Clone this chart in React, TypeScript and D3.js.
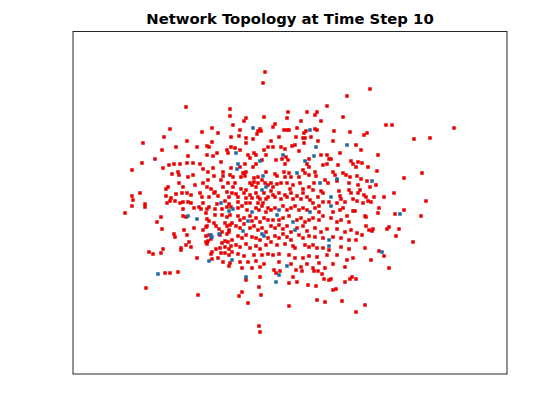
import React, { useEffect, useRef } from "react";
import * as d3 from "d3";

const titleText = "Network Topology at Time Step 10";
const xLimits: [number, number] = [-21.7, 21.7];
const yLimits: [number, number] = [-17.1, 17.15];

// node positions (x, y)
const redNodes: [number, number][] = [
  [-10.4, 9.6], [-6.0, 9.4], [-6.0, 8.7], [-5.7, 7.8], [-12.0, 7.4], [-8.8, 7.1], [-7.8, 7.5], [-7.2, 7.0],
  [-12.6, 6.6], [-5.9, 6.6], [-14.7, 6.0], [-12.8, 5.3], [-13.5, 4.4], [-14.8, 4.0], [-12.1, 3.8], [-11.6, 3.9],
  [-12.7, 3.5], [-15.8, 3.3], [-11.8, 2.9], [-12.2, 1.6], [-12.4, 1.4], [-15.0, 1.0], [-15.8, 0.7], [-12.4, 0.7],
  [-11.9, 0.5],
  [-2.5, 13.1], [-2.7, 12.0], [5.7, 10.7], [3.7, 9.7], [-0.2, 9.1], [1.7, 9.1], [2.7, 9.1], [2.5, 8.8],
  [-0.3, 8.5], [-2.6, 8.6], [5.3, 8.6], [-4.4, 8.5], [-4.6, 8.2], [1.1, 8.2], [3.1, 8.2], [-1.5, 7.9],
  [-1.7, 7.6], [-3.0, 7.4], [-3.2, 7.2], [-5.0, 7.3], [-0.6, 7.3], [-0.3, 7.3], [-0.1, 7.3], [0.7, 7.5],
  [1.6, 7.2], [1.4, 7.0], [2.5, 7.4], [2.7, 7.3], [4.4, 7.2], [6.0, 7.1], [-5.1, 6.7], [-4.4, 6.5],
  [-3.7, 6.4], [-3.3, 6.9], [-2.9, 7.2], [-1.1, 6.6], [0.6, 6.6], [1.3, 6.5], [1.5, 6.5], [2.1, 6.6],
  [8.0, 11.4], [9.6, 7.8], [10.2, 7.8], [16.4, 7.5], [7.4, 6.8], [7.7, 7.0], [12.4, 6.4], [14.0, 6.5],
  [6.6, 5.8], [7.1, 5.3], [8.8, 4.8], [6.8, 4.1], [7.2, 4.0], [6.6, 3.6], [7.8, 3.6], [8.7, 3.2],
  [6.7, 2.7], [11.4, 2.5], [13.2, 3.0], [7.1, 2.4], [7.7, 2.2], [6.8, 1.8], [8.6, 1.8], [8.0, 1.6],
  [7.0, 1.3], [6.8, 1.0], [10.4, 1.0], [7.4, 0.8], [7.6, 0.6], [8.4, 0.6], [9.4, 0.6],
  [-15.7, 0.3], [-14.5, -0.1], [-14.5, -0.4], [-15.8, -0.3], [-16.5, -1.0], [-12.3, 0.0], [-12.0, 0.2], [-11.5, 0.2],
  [-11.0, 0.0], [-10.7, 0.1], [-10.2, 0.1], [-9.9, 0.0], [-10.7, -0.6], [-9.6, -0.5], [-9.1, -0.4], [-8.9, -0.6],
  [-8.7, 0.0], [-8.3, -0.6], [-8.1, -0.4], [-7.3, -0.1], [-6.5, 0.2], [-6.1, -0.1], [-7.5, -0.6], [-6.8, -0.6],
  [-6.3, -0.4], [-5.9, -0.4], [-12.9, -1.4], [-10.7, -1.3], [-10.4, -1.4], [-8.4, -1.0], [-8.3, -1.6], [-8.1, -1.8],
  [-7.5, -1.2], [-6.8, -1.2], [-6.3, -1.4], [-6.0, -1.2], [-13.3, -1.9], [-12.8, -2.6], [-10.6, -2.7], [-9.6, -2.5],
  [-8.7, -2.7], [-8.4, -2.4], [-8.3, -2.3], [-7.6, -2.0], [-7.4, -2.3], [-7.1, -2.6], [-6.8, -2.9], [-6.5, -2.0],
  [-6.3, -2.3], [-6.0, -2.2], [-5.8, -2.0], [-6.1, -2.7], [-11.6, -3.1], [-11.5, -3.4], [-10.3, -3.2], [-8.4, -3.3],
  [-8.1, -3.2], [-7.0, -3.2], [-6.3, -3.1], [-6.1, -2.9], [-5.8, -3.7], [-6.2, -3.9], [-10.1, -3.9], [-10.4, -4.2],
  [-9.9, -4.4], [-8.4, -3.9], [-8.2, -3.8], [-8.3, -4.1], [-7.9, -3.6], [-6.8, -4.0], [-6.5, -3.8], [-7.4, -4.6],
  [-7.0, -4.5], [-6.5, -4.4], [-6.1, -4.6], [-5.9, -4.3], [-10.9, -4.5], [-10.9, -4.7], [-12.7, -4.6], [-14.1, -4.9],
  [-13.7, -5.1], [-12.9, -5.0], [-7.8, -4.9], [-7.9, -5.1], [-6.9, -5.0], [-6.5, -5.0], [-6.1, -5.2], [-5.8, -4.9],
  [-9.3, -5.5], [-7.8, -5.6], [-7.2, -5.5], [-6.7, -5.9], [-6.0, -6.0], [-6.1, -6.3], [-12.5, -7.0], [-12.0, -7.0],
  [-11.2, -6.9], [-14.4, -8.5], [-9.2, -9.2],
  [-11.4, 5.6], [-10.3, 6.2], [-9.3, 5.6], [-8.3, 5.7], [-8.1, 5.6], [-7.8, 6.1], [-7.3, 5.0], [-6.3, 5.3],
  [-6.2, 5.0], [-5.9, 5.6], [-5.5, 5.5], [-5.0, 5.3], [-4.4, 6.0], [-4.2, 4.8], [-4.0, 4.5], [-3.6, 5.0],
  [-3.4, 4.8], [-2.8, 4.3], [-2.6, 5.3], [-2.4, 4.8], [-2.2, 5.6], [-10.2, 4.7], [-10.3, 4.0], [-11.0, 3.9],
  [-8.3, 4.8], [-7.7, 4.7], [-6.9, 4.1], [-9.7, 4.0], [-9.0, 3.9], [-5.0, 3.6], [-4.5, 3.9], [-4.4, 3.1],
  [-4.6, 3.0], [-3.7, 3.6], [-3.4, 3.9], [-2.4, 3.1], [-11.2, 3.1], [-11.1, 2.8], [-8.7, 3.4], [-8.2, 3.1],
  [-7.7, 3.5], [-6.7, 3.1], [-5.9, 3.5], [-9.7, 2.8], [-10.2, 2.6], [-7.6, 2.7], [-8.2, 2.3], [-6.7, 2.7],
  [-6.9, 2.3], [-6.0, 2.8], [-5.7, 2.6], [-4.9, 2.6], [-4.7, 3.0], [-4.5, 2.7], [-3.6, 2.5], [-3.2, 2.6],
  [-11.1, 2.0], [-10.7, 1.6], [-9.5, 1.8], [-8.7, 2.0], [-8.3, 1.6], [-7.9, 1.4], [-7.5, 1.1], [-6.7, 1.6],
  [-6.2, 2.0], [-5.7, 1.6], [-5.5, 2.0], [-4.9, 1.4], [-4.4, 1.3], [-4.0, 2.0], [-3.8, 1.8], [-3.6, 2.1],
  [-3.2, 2.0], [-3.4, 1.6], [-2.8, 2.3], [-2.5, 2.0], [-2.2, 1.8], [-11.4, 0.9], [-10.8, 1.0], [-10.3, 1.0],
  [-9.9, 0.8], [-9.0, 1.0], [-8.8, 0.6], [-8.1, 0.6], [-7.6, 1.0], [-7.2, 0.7], [-6.3, 1.1], [-6.1, 0.6],
  [-5.8, 1.0], [-5.4, 0.9], [-5.2, 0.6], [-4.6, 1.0], [-4.4, 0.5], [-4.0, 0.8], [-3.8, 0.5], [-3.4, 1.0],
  [-3.2, 0.6], [-3.0, 0.4], [-2.6, 1.0], [-2.2, 0.6], [-2.4, 0.4], [-5.2, 0.1], [-4.4, 0.0], [-4.0, 0.0],
  [-3.2, 0.0], [-2.7, 0.0],
  [-1.9, 6.2], [-1.7, 5.6], [-0.9, 5.6], [-0.5, 5.4], [-0.8, 4.4], [-0.4, 4.6], [-0.2, 4.3], [-0.5, 3.9],
  [-1.4, 4.3], [0.2, 5.7], [0.5, 5.8], [0.9, 5.2], [1.4, 6.0], [2.8, 6.2], [1.9, 4.4], [1.7, 3.9],
  [1.9, 3.6], [3.1, 4.8], [3.7, 4.8], [3.9, 4.4], [4.1, 4.4], [3.7, 3.9], [4.3, 6.2], [5.0, 5.0],
  [4.8, 3.8], [6.1, 4.2], [6.3, 3.9], [-1.5, 2.9], [-1.3, 2.7], [-0.6, 3.1], [-0.5, 2.6], [-0.1, 3.0],
  [0.1, 2.6], [0.9, 2.6], [1.3, 3.3], [1.5, 3.0], [1.9, 2.8], [2.5, 3.1], [2.6, 2.7], [2.4, 2.0],
  [3.3, 3.8], [3.5, 2.3], [4.3, 3.1], [4.5, 2.8], [3.8, 2.0], [4.7, 2.2], [5.3, 3.0], [5.6, 2.8],
  [6.0, 2.6], [5.9, 2.0], [-1.9, 2.0], [-1.7, 1.6], [-1.3, 1.9], [-0.9, 2.0], [-0.3, 2.0], [0.0, 1.4],
  [0.3, 1.8], [1.0, 2.0], [1.3, 1.4], [1.9, 1.6], [2.3, 1.3], [3.1, 1.2], [3.3, 1.0], [4.9, 1.2],
  [5.0, 0.7], [5.1, 0.4], [5.9, 1.3], [6.1, 1.0], [-1.9, 1.2], [-1.7, 0.8], [-1.5, 0.6], [-1.1, 1.0],
  [-0.9, 0.4], [-0.5, 0.8], [-0.3, 0.6], [0.1, 1.0], [0.3, 0.4], [0.7, 0.7], [1.1, 0.4], [1.3, 1.0],
  [1.7, 0.6], [2.0, 0.3], [2.3, 0.0], [2.8, 0.6], [3.3, 0.1], [3.9, 0.1], [4.7, 0.0], [5.5, 0.1],
  [6.3, 0.4],
  [-5.2, -0.5], [-4.8, -0.3], [-4.3, -0.7], [-3.4, -0.5], [-3.1, -0.7], [-2.8, -0.3], [-2.4, -0.9], [-2.2, -0.5],
  [-5.2, -1.3], [-5.0, -1.7], [-4.6, -1.5], [-4.0, -1.3], [-3.8, -1.8], [-3.4, -1.5], [-3.0, -1.9], [-2.6, -1.5],
  [-2.2, -1.7], [-5.4, -2.3], [-5.0, -2.5], [-4.6, -2.1], [-4.0, -2.5], [-3.6, -2.3], [-3.2, -2.7], [-2.8, -2.5],
  [-2.4, -2.9], [-5.2, -3.3], [-4.8, -3.5], [-4.4, -3.2], [-3.8, -3.4], [-3.4, -3.5], [-3.0, -3.7], [-2.2, -3.5],
  [-5.4, -4.2], [-5.0, -4.4], [-4.4, -4.1], [-4.0, -4.5], [-3.4, -4.3], [-3.0, -4.6], [-2.4, -4.2], [-5.2, -5.1],
  [-4.6, -5.3], [-3.6, -5.2], [-2.8, -5.2], [-2.2, -5.1], [-5.0, -5.9], [-4.2, -5.9], [-3.4, -5.8], [-2.6, -6.1],
  [-4.8, -6.5], [-3.8, -6.5], [-3.0, -6.4],
  [-1.9, -0.7], [-1.5, -0.5], [-0.7, -0.3], [-0.3, -0.7], [0.1, -0.5], [0.5, -0.3], [0.9, -0.7], [1.3, -0.5],
  [1.7, -0.7], [2.5, -0.5], [2.9, -0.3], [2.9, -0.9], [4.3, -0.9], [5.0, -0.7], [5.3, -0.5], [5.7, -1.3],
  [6.3, -0.8], [-1.7, -1.7], [-1.1, -1.7], [-0.7, -1.5], [-0.1, -1.3], [0.7, -1.7], [1.1, -1.5], [1.5, -1.9],
  [1.9, -1.7], [2.3, -1.5], [2.9, -1.7], [3.3, -1.3], [4.1, -1.5], [4.7, -1.9], [5.1, -1.7], [5.9, -1.9],
  [-1.9, -2.3], [-1.5, -2.5], [-1.1, -2.2], [-0.7, -2.6], [-0.3, -2.3], [0.1, -2.9], [0.7, -2.5], [1.3, -2.3],
  [1.7, -2.8], [2.5, -2.5], [3.1, -2.9], [3.7, -2.6], [4.7, -2.6], [5.5, -2.9], [6.1, -2.7], [-1.5, -3.3],
  [-1.1, -3.5], [-0.7, -3.1], [-0.3, -3.4], [0.1, -3.7], [0.9, -3.2], [1.3, -3.5], [1.9, -3.3], [2.5, -3.4],
  [3.3, -3.5], [4.3, -3.4], [5.1, -3.5], [5.9, -3.7], [-1.9, -3.9], [-1.3, -4.2], [-0.5, -4.1], [0.3, -4.3],
  [0.5, -4.5], [1.5, -4.2], [1.9, -4.4], [2.3, -4.2], [2.7, -4.5], [3.3, -4.5], [3.9, -4.7], [5.1, -4.4],
  [5.9, -4.6], [-1.7, -5.2], [-1.1, -5.1], [-0.1, -5.2], [0.5, -5.5], [1.3, -5.5], [1.9, -5.3], [2.7, -5.4],
  [3.7, -5.2], [4.7, -5.2], [5.7, -5.7], [6.3, -5.5], [-1.1, -5.9], [0.1, -6.1], [1.1, -6.4], [1.7, -6.1],
  [2.3, -6.5], [2.9, -6.0], [3.5, -6.5], [4.3, -6.1], [5.5, -6.4],
  [-4.4, -7.7], [-3.0, -7.4], [-3.1, -8.4], [-1.0, -6.8], [-1.4, -7.0], [-1.6, -6.7], [-0.1, -8.0], [0.3, -7.4],
  [0.7, -7.9], [1.8, -8.2], [2.6, -8.3], [0.6, -6.7], [1.2, -6.8], [2.4, -6.8], [2.8, -6.8], [3.2, -7.1],
  [3.4, -7.6], [3.9, -7.7], [4.1, -7.6], [5.5, -7.9], [6.0, -7.6], [6.2, -7.4], [-4.8, -8.9], [-5.1, -9.3],
  [-2.9, -9.2], [4.3, -8.7], [4.6, -8.6], [2.7, -9.7], [3.5, -9.9], [5.2, -9.8], [-4.2, -10.0], [-0.1, -10.3],
  [-3.1, -12.3], [-3.0, -12.9],
  [6.7, 0.2], [7.3, 0.0], [7.8, 0.2], [8.1, 0.1], [13.6, 0.2], [8.9, -0.5], [8.8, -1.0], [10.5, -1.1],
  [11.4, -0.7], [13.1, -1.3], [6.5, -0.8], [7.5, -1.3], [7.6, -1.4], [7.6, -2.3], [7.9, -2.7], [8.3, -2.6],
  [8.2, -2.8], [9.7, -2.6], [9.9, -2.4], [10.9, -2.6], [6.7, -3.0], [7.2, -3.2], [10.6, -3.3], [6.6, -3.7],
  [12.3, -3.9], [7.5, -4.5], [8.9, -4.8], [9.4, -5.3], [8.1, -5.7], [9.9, -6.5], [6.6, -7.6], [7.5, -10.2],
  [6.6, -10.9],
];

const blueNodes: [number, number][] = [
  [-3.7, 7.5], [2.0, 7.3], [8.2, 2.2],
  [-6.9, 0.0], [-5.7, -0.6], [-6.1, -0.8], [-10.2, -1.3], [-9.3, -1.6], [-7.9, -3.2], [-7.8, -3.4], [-7.1, -3.1],
  [-8.1, -5.8], [-5.8, -5.7], [-13.2, -7.1],
  [-5.4, 5.0], [-3.0, 4.2], [-5.2, 3.9], [-5.3, 3.4], [-2.7, 2.7], [-2.4, 1.6], [-2.8, 1.3],
  [-0.7, 4.8], [2.6, 5.6], [1.5, 4.2], [2.4, 4.7], [5.7, 5.8], [0.7, 3.0], [3.0, 2.0], [4.7, 2.4], [4.1, 0.6],
  [-3.8, -0.9], [-4.2, -1.8], [-4.7, -2.8], [-2.8, -3.1], [-2.6, -3.3],
  [-1.1, -0.7], [2.0, -0.9], [4.1, -0.3], [-1.3, -1.2], [0.3, -1.9], [0.5, -2.7], [3.9, -3.7], [3.9, -4.3], [-0.3, -6.3],
  [-4.4, -7.4], [-1.4, -7.9], [-1.1, -7.2],
  [11.0, -1.1], [9.2, -4.9],
];

const W = 560;
const H = 420;
const plot = { left: 73, right: 507, top: 31.5, bottom: 374 };
const markerSize = 3.5;

export default function App() {
  const ref = useRef<SVGSVGElement | null>(null);

  useEffect(() => {
    const svg = d3.select(ref.current);
    svg.selectAll("*").remove();

    const x = d3.scaleLinear().domain(xLimits).range([plot.left, plot.right]);
    const y = d3.scaleLinear().domain(yLimits).range([plot.bottom, plot.top]);

    svg.append("rect").attr("width", W).attr("height", H).attr("fill", "#ffffff");

    const g = svg.append("g");
    g.selectAll("rect.red")
      .data(redNodes)
      .join("rect")
      .attr("class", "red")
      .attr("x", (d) => x(d[0]) - markerSize / 2)
      .attr("y", (d) => y(d[1]) - markerSize / 2)
      .attr("width", markerSize)
      .attr("height", markerSize)
      .attr("fill", "#ea0000");

    g.selectAll("rect.blue")
      .data(blueNodes)
      .join("rect")
      .attr("class", "blue")
      .attr("x", (d) => x(d[0]) - markerSize / 2)
      .attr("y", (d) => y(d[1]) - markerSize / 2)
      .attr("width", markerSize)
      .attr("height", markerSize)
      .attr("fill", "#1f6aa5");

    svg.append("rect")
      .attr("x", plot.left)
      .attr("y", plot.top)
      .attr("width", plot.right - plot.left)
      .attr("height", plot.bottom - plot.top)
      .attr("fill", "none")
      .attr("stroke", "#262626")
      .attr("stroke-width", 1);

    svg.append("text")
      .attr("x", (plot.left + plot.right) / 2)
      .attr("y", 24)
      .attr("text-anchor", "middle")
      .attr("font-family", "'DejaVu Sans', sans-serif")
      .attr("font-weight", "bold")
      .attr("font-size", 14.8)
      .attr("fill", "#000")
      .text(titleText);
  }, []);

  return (
    <svg
      ref={ref}
      width={W}
      height={H}
      style={{ position: "absolute", left: 0, top: 0 }}
    />
  );
}
